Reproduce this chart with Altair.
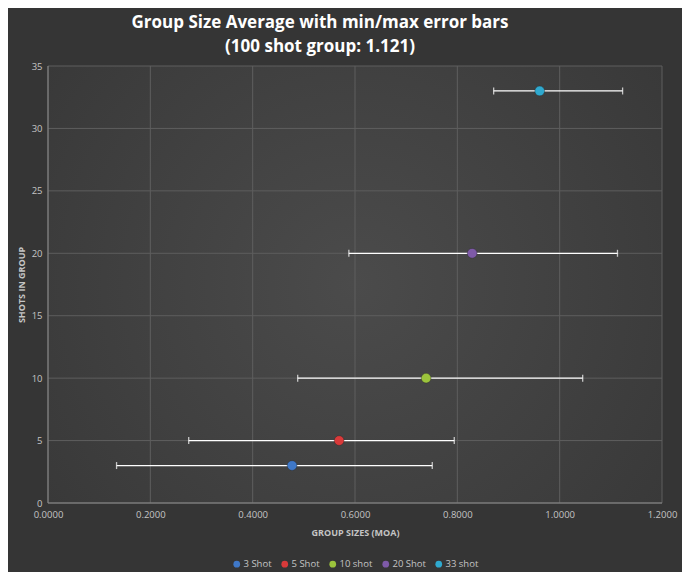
import altair as alt
import pandas as pd

series = ["3 Shot", "5 Shot", "10 shot", "20 Shot", "33 shot"]
shots = [3, 5, 10, 20, 33]
avg = [0.477, 0.569, 0.739, 0.829, 0.961]
mins = [0.134, 0.275, 0.488, 0.588, 0.871]
maxs = [0.751, 0.794, 1.045, 1.113, 1.123]
colors = ["#3f78c8", "#d93a3a", "#9cc43c", "#7e5aa8", "#2fa9cf"]
x_ticks = [0.0, 0.2, 0.4, 0.6, 0.8, 1.0, 1.2]
y_ticks = [0, 5, 10, 15, 20, 25, 30, 35]

df = pd.DataFrame({"series": series, "shots": shots, "avg": avg, "min": mins, "max": maxs})

W, H = 614, 437
PL, PT, PR, PB = 40, 58, 20, 69

bg = alt.Chart(alt.Data(values=[{}])).mark_rect(
    color=alt.Gradient(
        gradient="radial",
        stops=[alt.GradientStop(color="#4b4b4b", offset=0),
               alt.GradientStop(color="#353535", offset=1)],
        x1=0.5, y1=0.5, r1=0, x2=0.5, y2=0.5, r2=0.75,
    )
).encode(
    x=alt.value(0), x2=alt.value(W),
    y=alt.value(0), y2=alt.value(H),
)

xs = alt.Scale(domain=[0, 1.2], nice=False)
ys = alt.Scale(domain=[0, 35], nice=False)

vgrid = alt.Chart(pd.DataFrame({"v": x_ticks})).mark_rule(color="#5e5e5e", strokeWidth=1).encode(
    x=alt.X("v:Q", scale=xs, axis=alt.Axis(values=x_ticks, format=".4f",
                                            title="GROUP SIZES (MOA)")))
hgrid = alt.Chart(pd.DataFrame({"v": y_ticks})).mark_rule(color="#5e5e5e", strokeWidth=1).encode(
    y=alt.Y("v:Q", scale=ys, axis=alt.Axis(values=y_ticks, title="SHOTS IN GROUP")))
frame = alt.Chart(pd.DataFrame({"v": [0]})).mark_rule(color="#8a8a8a", strokeWidth=1).encode(
    x=alt.X("v:Q", scale=xs))
frame_b = alt.Chart(pd.DataFrame({"v": [0]})).mark_rule(color="#8a8a8a", strokeWidth=1).encode(
    y=alt.Y("v:Q", scale=ys))

base = alt.Chart(df)

rules = base.mark_rule(color="white", strokeWidth=1.3).encode(
    x=alt.X("min:Q", scale=xs),
    x2="max:Q",
    y=alt.Y("shots:Q", scale=ys),
)
caps_lo = base.mark_tick(color="white", orient="vertical", size=7, thickness=1.3).encode(
    x=alt.X("min:Q", scale=xs), y=alt.Y("shots:Q", scale=ys))
caps_hi = base.mark_tick(color="white", orient="vertical", size=7, thickness=1.3).encode(
    x=alt.X("max:Q", scale=xs), y=alt.Y("shots:Q", scale=ys))

pts = base.mark_point(filled=True, shape="circle", size=95, opacity=1,
                      stroke="#222222", strokeWidth=0.6, strokeOpacity=0.6).encode(
    x=alt.X("avg:Q", scale=xs),
    y=alt.Y("shots:Q", scale=ys),
    fill=alt.Fill("series:N", sort=series,
                  scale=alt.Scale(domain=series, range=colors),
                  legend=alt.Legend(title=None, orient="none", direction="horizontal",
                                    legendX=184, legendY=493, symbolSize=45,
                                    symbolType="circle", columnPadding=8,
                                    labelFont="Open Sans", labelFontSize=9.5,
                                    labelColor="#c4c4c4", symbolStrokeWidth=0,
                                    labelOffset=2)),
)

chart = alt.layer(bg, vgrid, hgrid, frame, frame_b, rules, caps_lo, caps_hi, pts).properties(
    width=W, height=H,
    padding={"left": PL, "top": PT, "right": PR, "bottom": PB},
    autosize=alt.AutoSizeParams(type="none"),
    background="#353535",
    title=alt.TitleParams(
        text=["Group Size Average with min/max error bars", "(100 shot group: 1.121)"],
        font="Open Sans", fontSize=17, fontWeight="bold", color="white",
        anchor="middle", dx=-35, offset=5, lineHeight=24,
    ),
).configure_view(stroke=None).configure_axis(
    labelFont="Open Sans", labelFontSize=9.5, labelColor="#c4c4c4",
    titleFont="Open Sans", titleFontSize=9, titleFontWeight="bold", titleColor="#c4c4c4",
    grid=False, domain=False, ticks=False, labelFlush=False,
    labelPadding=6,
).configure_axisY(titlePadding=5).configure_axisX(titlePadding=10)

chart.save("out.html", embed_options={"renderer": "svg", "actions": False})
